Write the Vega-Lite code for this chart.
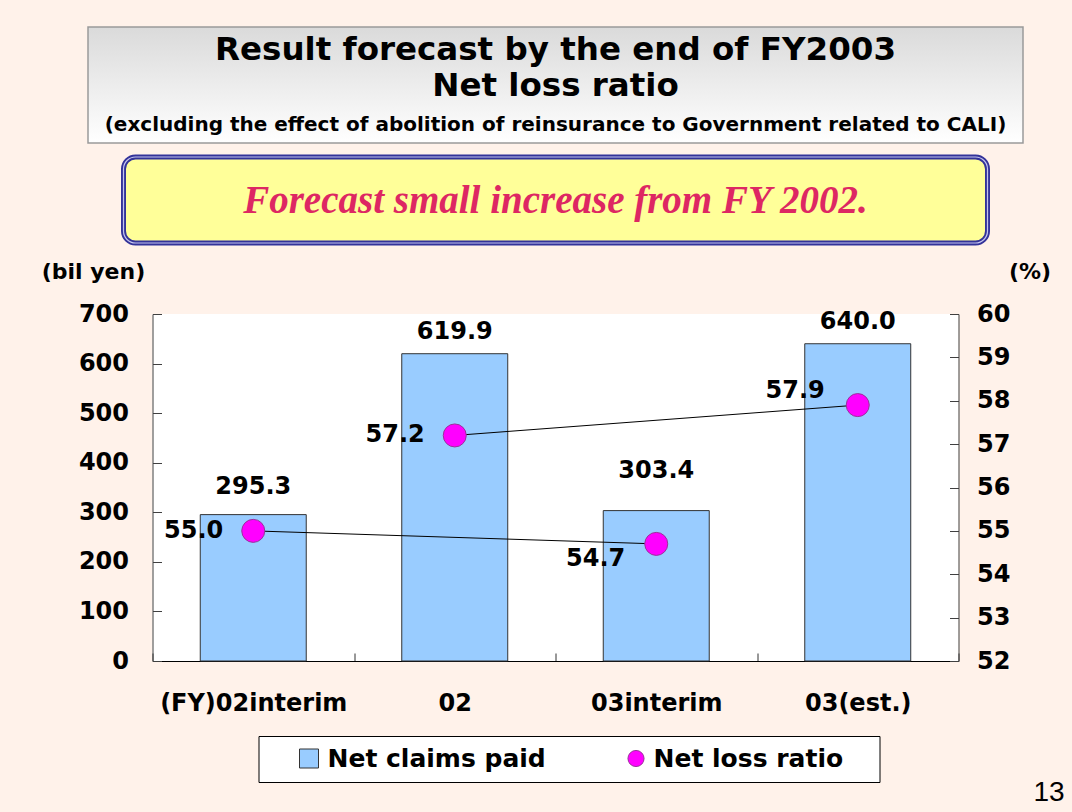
{
  "$schema": "https://vega.github.io/schema/vega-lite/v6.json",
  "background": "#FFF2EA",
  "padding": {"left": 41, "top": 26, "right": 30, "bottom": 40},
  "config": {"font": "DejaVu Sans", "view": {"stroke": null}},
  "spacing": 14,
  "center": true,
  "bounds": "flush",
  "vconcat": [
    {
      "width": 935,
      "height": 116,
      "data": {"values": [{"line1": "Result forecast by the end of FY2003", "line2": "Net loss ratio", "line3": "(excluding the effect of abolition of reinsurance to Government related to CALI)"}]},
      "layer": [
        {"mark": {"type": "rect", "fill": {"gradient": "linear", "x1": 0, "y1": 0, "x2": 0, "y2": 1, "stops": [{"offset": 0, "color": "#DADADA"}, {"offset": 1, "color": "#FFFFFF"}]}, "stroke": "#9A9A9A", "strokeWidth": 1.5}, "encoding": {}},
        {"mark": {"type": "text", "fontSize": 32.5, "fontWeight": "bold", "baseline": "middle", "dy": -35.5, "color": "black"}, "encoding": {"text": {"field": "line1"}}},
        {"mark": {"type": "text", "fontSize": 32.5, "fontWeight": "bold", "baseline": "middle", "dy": 1, "color": "black"}, "encoding": {"text": {"field": "line2"}}},
        {"mark": {"type": "text", "fontSize": 20, "fontWeight": "bold", "baseline": "middle", "dy": 39.5, "color": "black"}, "encoding": {"text": {"field": "line3"}}}
      ]
    },
    {
      "width": 864,
      "height": 86,
      "view": {"fill": "#FFFF99", "stroke": "#333399", "strokeWidth": 5, "cornerRadius": 12},
      "data": {"values": [{"t": "Forecast small increase from FY 2002."}]},
      "layer": [
        {"mark": {"type": "rect", "filled": false, "stroke": "#C4C4EE", "strokeWidth": 1.2, "cornerRadius": 12}, "encoding": {}},
        {"mark": {"type": "text", "font": "Liberation Serif", "fontStyle": "italic", "fontWeight": "bold", "fontSize": 39, "color": "#DD2763", "baseline": "middle", "dy": 1},
         "encoding": {"text": {"field": "t"}}}
      ]
    },
    {
      "width": 1,
      "height": 43,
      "data": {"values": [{"t": ""}]},
      "mark": {"type": "text"},
      "encoding": {"text": {"field": "t"}}
    },
    {
      "width": 806,
      "height": 347,
      "view": {"fill": "white", "stroke": null},
      "data": {"values": [
        {"cat": "(FY)02interim", "claims": 295.3, "ratio": 55.0, "pair": "interim"},
        {"cat": "02", "claims": 619.9, "ratio": 57.2, "pair": "full"},
        {"cat": "03interim", "claims": 303.4, "ratio": 54.7, "pair": "interim"},
        {"cat": "03(est.)", "claims": 640.0, "ratio": 57.9, "pair": "full"}
      ]},
      "encoding": {
        "x": {"field": "cat", "type": "nominal", "sort": null,
          "scale": {"paddingInner": 0, "paddingOuter": 0},
          "axis": {"title": "13", "titleX": 896, "titleY": 131, "titleAlign": "center", "titleBaseline": "middle", "titleFont": "Liberation Sans", "titleFontSize": 28, "titleFontWeight": "normal", "titleColor": "black", "labelAngle": 0, "labelFontSize": 24, "labelFontWeight": "bold", "labelColor": "black", "labelPadding": 38, "labelLimit": 400, "tickBand": "extent", "tickSize": -8, "tickColor": "#333333", "domainColor": "black", "domainWidth": 1}}
      },
      "layer": [
        {
          "encoding": {"y": {"field": "claims", "type": "quantitative", "scale": {"domain": [0, 700], "nice": false},
            "axis": {"orient": "left", "values": [0, 100, 200, 300, 400, 500, 600, 700], "grid": false, "title": "(bil yen)", "titleAngle": 0, "titleX": -59.5, "titleY": -43, "titleAlign": "center", "titleBaseline": "middle", "titleFontSize": 22, "titleFontWeight": "bold", "titleColor": "black", "labelFontSize": 24, "labelFontWeight": "bold", "labelColor": "black", "labelPadding": 33, "tickSize": -9, "tickColor": "#404040", "domainColor": "#404040"}}},
          "layer": [
            {"mark": {"type": "bar", "width": {"band": 0.526}, "stroke": "#333333", "strokeWidth": 1},
             "encoding": {"fill": {"datum": "Net claims paid", "type": "nominal",
               "scale": {"domain": ["Net claims paid"], "range": ["#99CCFF"]},
               "legend": {"title": " ", "titleOrient": "right", "titlePadding": 324, "titleFontSize": 10, "orient": "none", "legendX": 170.5, "legendY": 709, "direction": "horizontal", "fillColor": "white", "strokeColor": "black", "padding": 10, "symbolOffset": 28, "symbolType": "square", "symbolSize": 361, "symbolStrokeColor": "#333333", "symbolStrokeWidth": 1, "symbolOpacity": 1, "labelOffset": 6, "labelFontSize": 25, "labelFontWeight": "bold", "labelColor": "black", "labelLimit": 400}}}},
            {"transform": [{"filter": "datum.cat === '02' || datum.cat === '03(est.)'"}],
             "mark": {"type": "text", "fontSize": 24, "fontWeight": "bold", "color": "black", "baseline": "middle", "dy": -22},
             "encoding": {"text": {"field": "claims", "type": "quantitative", "format": ".1f"}}},
            {"transform": [{"filter": "datum.cat === '(FY)02interim'"}],
             "mark": {"type": "text", "fontSize": 24, "fontWeight": "bold", "color": "black", "baseline": "middle", "dy": -28},
             "encoding": {"text": {"field": "claims", "type": "quantitative", "format": ".1f"}}},
            {"transform": [{"filter": "datum.cat === '03interim'"}],
             "mark": {"type": "text", "fontSize": 24, "fontWeight": "bold", "color": "black", "baseline": "middle", "dy": -40},
             "encoding": {"text": {"field": "claims", "type": "quantitative", "format": ".1f"}}}
          ]
        },
        {
          "encoding": {"y": {"field": "ratio", "type": "quantitative", "scale": {"domain": [52, 60], "nice": false},
            "axis": {"orient": "right", "values": [52, 53, 54, 55, 56, 57, 58, 59, 60], "grid": false, "title": "(%)", "titleAngle": 0, "titleX": 71, "titleY": -43, "titleAlign": "center", "titleBaseline": "middle", "titleFontSize": 22, "titleFontWeight": "bold", "titleColor": "black", "labelFontSize": 24, "labelFontWeight": "bold", "labelColor": "black", "labelPadding": 27, "tickSize": -9, "tickColor": "#404040", "domainColor": "#404040"}}},
          "layer": [
            {"mark": {"type": "line", "color": "black", "strokeWidth": 1}, "encoding": {"detail": {"field": "pair"}}},
            {"mark": {"type": "point", "filled": true, "size": 530, "stroke": "#993399", "strokeWidth": 1, "opacity": 1},
             "encoding": {"color": {"datum": "Net loss ratio", "type": "nominal",
               "scale": {"domain": ["Net loss ratio"], "range": ["#FF00FF"]},
               "legend": {"title": null, "orient": "none", "legendX": 170.5, "legendY": 709, "direction": "horizontal", "padding": 10, "symbolOffset": 355, "symbolType": "circle", "symbolSize": 260, "symbolStrokeColor": "#993399", "symbolStrokeWidth": 1, "symbolOpacity": 1, "labelOffset": 5, "labelFontSize": 25, "labelFontWeight": "bold", "labelColor": "black", "labelLimit": 400}}}},
            {"transform": [{"filter": "datum.cat === '(FY)02interim' || datum.cat === '02'"}],
             "mark": {"type": "text", "fontSize": 24, "fontWeight": "bold", "color": "black", "align": "right", "baseline": "middle", "dx": -30},
             "encoding": {"text": {"field": "ratio", "type": "quantitative", "format": ".1f"}}},
            {"transform": [{"filter": "datum.cat === '03interim'"}],
             "mark": {"type": "text", "fontSize": 24, "fontWeight": "bold", "color": "black", "align": "right", "baseline": "middle", "dx": -31, "dy": 15},
             "encoding": {"text": {"field": "ratio", "type": "quantitative", "format": ".1f"}}},
            {"transform": [{"filter": "datum.cat === '03(est.)'"}],
             "mark": {"type": "text", "fontSize": 24, "fontWeight": "bold", "color": "black", "align": "right", "baseline": "middle", "dx": -33, "dy": -14},
             "encoding": {"text": {"field": "ratio", "type": "quantitative", "format": ".1f"}}}
          ]
        }
      ],
      "resolve": {"scale": {"y": "independent"}}
    }
  ]
}
